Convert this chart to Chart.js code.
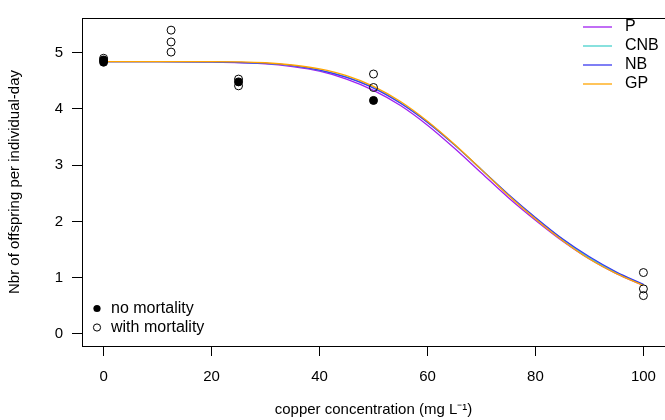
<!DOCTYPE html>
<html>
<head>
<meta charset="utf-8">
<script src="https://cdn.jsdelivr.net/npm/chart.js@4/dist/chart.umd.min.js"></script>
<style>
  html, body { margin: 0; padding: 0; background: #fff; overflow: hidden; }
</style>
</head>
<body>
<canvas id="myChart" width="670" height="420"></canvas>
<script>
// observed points (copper concentration, offspring per individual-day)
var noMortX = [0, 0, 25, 50];
var noMortY = [4.83, 4.87, 4.48, 4.15];
var withMortX = [0, 12.5, 12.5, 12.5, 25, 25, 50, 50, 100, 100, 100];
var withMortY = [4.9, 5.01, 5.19, 5.40, 4.53, 4.41, 4.62, 4.38, 1.09, 0.80, 0.68];

// fitted curves
var curveX = [0, 10, 20, 30, 35, 40, 45, 50, 55, 60, 65, 70, 75, 80, 85, 90, 95, 100];
var curveP   = [4.84, 4.84, 4.83, 4.80, 4.75, 4.67, 4.53, 4.33, 4.06, 3.71, 3.30, 2.86, 2.42, 2.02, 1.65, 1.33, 1.07, 0.86];
var curveCNB = [4.84, 4.84, 4.835, 4.81, 4.77, 4.69, 4.57, 4.38, 4.11, 3.77, 3.36, 2.92, 2.47, 2.06, 1.68, 1.35, 1.09, 0.87];
var curveNB  = [4.84, 4.84, 4.835, 4.81, 4.77, 4.69, 4.56, 4.37, 4.10, 3.76, 3.36, 2.92, 2.48, 2.07, 1.69, 1.37, 1.10, 0.88];
var curveGP  = [4.84, 4.84, 4.84, 4.82, 4.78, 4.71, 4.59, 4.40, 4.13, 3.78, 3.37, 2.92, 2.46, 2.04, 1.66, 1.33, 1.07, 0.86];

var curveNames = ['P', 'CNB', 'NB', 'GP'];
var curveColors = ['#a020f0', '#48d1cc', '#3a3af0', '#ffa500'];

var xTicks = [0, 20, 40, 60, 80, 100];
var yTicks = [0, 1, 2, 3, 4, 5];

var FONT = '"Liberation Sans", Arial, sans-serif';

function pts(xs, ys) {
  return xs.map(function (x, i) { return { x: x, y: ys[i] }; });
}

function curve(label, ys, color) {
  return {
    label: label,
    data: pts(curveX, ys),
    showLine: true,
    borderColor: color,
    borderWidth: 1.3,
    pointRadius: 0,
    cubicInterpolationMode: 'monotone',
    fill: false,
    order: 2
  };
}

// box round the plot + the two little legends, R style
var rPlot = {
  id: 'rPlot',
  afterDraw: function (chart) {
    var ctx = chart.ctx;
    var a = chart.chartArea;
    ctx.save();
    ctx.strokeStyle = '#000';
    ctx.lineWidth = 1;
    ctx.strokeRect(Math.round(a.left) + 0.5, Math.round(a.top) + 0.5,
      Math.round(a.right - a.left), Math.round(a.bottom - a.top));

    ctx.font = '16px ' + FONT;
    ctx.textBaseline = 'middle';
    ctx.fillStyle = '#000';

    // lines legend, top right
    ctx.lineWidth = 1.3;
    for (var i = 0; i < curveNames.length; i++) {
      var y = 27 + i * 19;
      ctx.strokeStyle = curveColors[i];
      ctx.beginPath();
      ctx.moveTo(583, y);
      ctx.lineTo(612, y);
      ctx.stroke();
      ctx.fillText(curveNames[i], 625, y);
    }

    // points legend, bottom left
    ctx.lineWidth = 1;
    ctx.strokeStyle = '#000';
    ctx.beginPath();
    ctx.arc(97, 308.5, 3.6, 0, Math.PI * 2);
    ctx.fill();
    ctx.fillText('no mortality', 111, 308.5);
    ctx.beginPath();
    ctx.arc(97, 327.5, 3.6, 0, Math.PI * 2);
    ctx.stroke();
    ctx.fillText('with mortality', 111, 327.5);
    ctx.restore();
  }
};

Chart.defaults.font.family = FONT;
Chart.defaults.font.size = 15;
Chart.defaults.color = '#000';

new Chart('myChart', {
  type: 'scatter',
  data: {
    datasets: [
      {
        label: 'no mortality',
        data: pts(noMortX, noMortY),
        backgroundColor: '#000',
        borderColor: '#000',
        pointRadius: 4,
        order: 1
      },
      {
        label: 'with mortality',
        data: pts(withMortX, withMortY),
        backgroundColor: 'rgba(0,0,0,0)',
        borderColor: '#000',
        borderWidth: 1,
        pointRadius: 4,
        order: 1
      },
      curve('GP', curveGP, curveColors[3]),
      curve('NB', curveNB, curveColors[2]),
      curve('CNB', curveCNB, curveColors[1]),
      curve('P', curveP, curveColors[0])
    ]
  },
  options: {
    responsive: false,
    devicePixelRatio: 1,
    animation: false,
    layout: { padding: { top: 7, right: 2, left: 0, bottom: 0 } },
    plugins: {
      legend: { display: false },
      tooltip: { enabled: false }
    },
    scales: {
      x: {
        type: 'linear',
        min: -4,
        max: 104,
        afterBuildTicks: function (s) { s.ticks = xTicks.map(function (v) { return { value: v }; }); },
        afterFit: function (s) { s.height = 74; },
        border: { display: false },
        grid: { drawOnChartArea: false, drawTicks: true, tickLength: 10, tickColor: '#000', lineWidth: 1 },
        ticks: { padding: 12, maxRotation: 0, autoSkip: false },
        title: {
          display: true,
          text: 'copper concentration (mg L\u207B\u00B9)',
          padding: { top: 0, bottom: 1 }
        }
      },
      y: {
        type: 'linear',
        min: -0.216,
        max: 5.616,
        afterBuildTicks: function (s) { s.ticks = yTicks.map(function (v) { return { value: v }; }); },
        afterFit: function (s) { s.width = 82; },
        border: { display: false },
        grid: { drawOnChartArea: false, drawTicks: true, tickLength: 10, tickColor: '#000', lineWidth: 1 },
        ticks: { padding: 9, autoSkip: false },
        title: {
          display: true,
          text: 'Nbr of offspring per individual-day',
          padding: { top: 6, bottom: 0 }
        }
      }
    }
  },
  plugins: [rPlot]
});
</script>
</body>
</html>
